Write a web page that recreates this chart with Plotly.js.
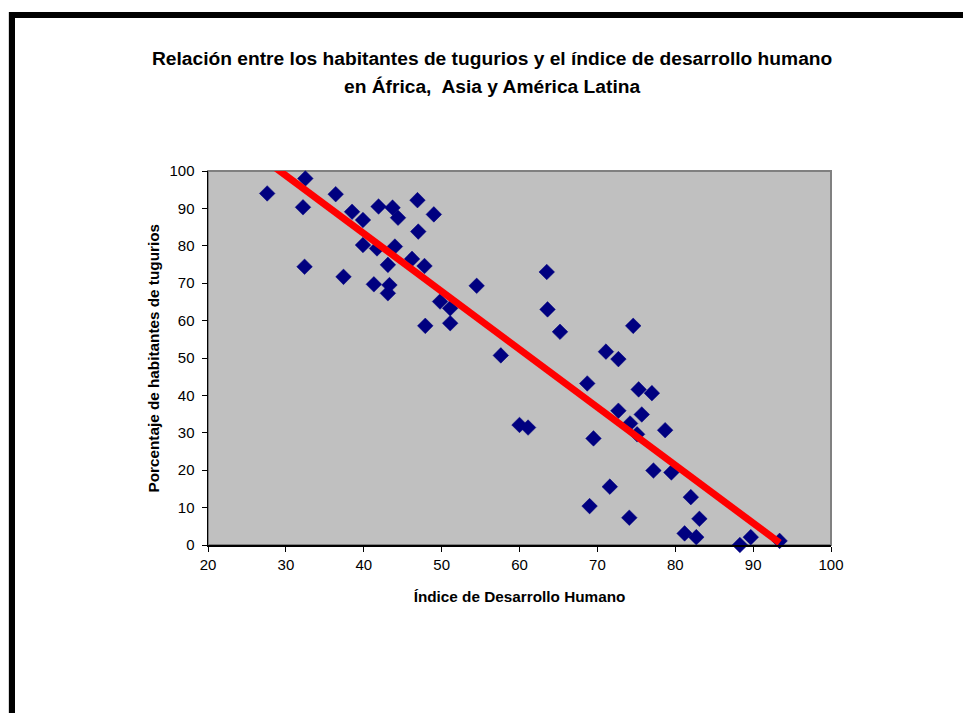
<!DOCTYPE html>
<html>
<head>
<meta charset="utf-8">
<script src="https://cdn.plot.ly/plotly-3.0.1.min.js"></script>
<style>
  html, body { margin: 0; padding: 0; background: #fff; overflow: hidden; }
  #frame { position: absolute; left: 9px; top: 12px; width: 2000px; height: 2000px;
           border-top: 6px solid #000; border-left: 6px solid #000; pointer-events: none; }
  #edge { position: absolute; left: 8px; top: 12px; width: 1px; height: 2000px; background: #d8d8d8; }
  #chart { position: absolute; left: 0; top: 0; width: 963px; height: 713px; }
</style>
</head>
<body>
<div id="chart"></div>
<div id="edge"></div>
<div id="frame"></div>
<script>
// Human Development Index (x) and percentage of slum dwellers (y)
const hdi = [27.6, 32.5, 32.2, 32.4, 36.4, 37.4, 38.5, 39.9, 39.9, 41.9,
             41.7, 41.3, 43.7, 44.4, 43.1, 44.0, 43.3, 43.1, 46.9, 47.0,
             46.2, 47.8, 49.0, 47.9, 54.5, 49.8, 51.1, 51.1, 57.6, 60.0,
             61.1, 63.5, 63.6, 65.2, 68.7, 69.0, 69.5, 71.1, 71.6, 72.7,
             72.7, 74.1, 74.2, 74.6, 75.1, 75.3, 75.7, 77.0, 77.2, 78.7,
             79.5, 81.2, 82.0, 82.7, 83.1, 88.3, 89.7, 93.4];
const slum = [94.0, 98.0, 90.3, 74.4, 93.8, 71.7, 89.1, 86.9, 80.2, 90.5,
              79.3, 69.7, 90.2, 87.5, 74.9, 79.8, 69.5, 67.3, 92.2, 83.8,
              76.5, 74.6, 88.4, 58.6, 69.3, 65.1, 63.3, 59.3, 50.7, 32.1,
              31.4, 73.0, 63.0, 57.0, 43.2, 10.4, 28.5, 51.7, 15.6, 49.7,
              35.9, 7.3, 32.5, 58.6, 29.6, 41.6, 34.9, 40.6, 19.9, 30.7,
              19.4, 3.1, 12.8, 2.1, 7.0, 0.0, 2.1, 1.1];
// Linear trend line endpoints
const trendX = [27.6, 93.4];
const trendY = [102.5, 0.6];
const xTicks = [20, 30, 40, 50, 60, 70, 80, 90, 100];
const yTicks = [0, 10, 20, 30, 40, 50, 60, 70, 80, 90, 100];

const titleLine1 = 'Relación entre los habitantes de tugurios y el índice de desarrollo humano';
const titleLine2 = 'en África,  Asia y América Latina';
const xTitle = 'Índice de Desarrollo Humano';
const yTitle = 'Porcentaje de habitantes de tugurios';

const FONT = 'Liberation Sans, Arial, sans-serif';

const traces = [
  {
    type: 'scatter', mode: 'markers', x: hdi, y: slum,
    marker: { symbol: 'diamond', size: 12, color: '#000080', line: { color: '#000080', width: 0.5 } },
    cliponaxis: false, hoverinfo: 'x+y', showlegend: false
  },
  {
    type: 'scatter', mode: 'lines', x: trendX, y: trendY,
    line: { color: '#FF0000', width: 7 },
    cliponaxis: true, hoverinfo: 'skip', showlegend: false
  }
];

const layout = {
  width: 963, height: 713,
  margin: { l: 208, r: 132, t: 171, b: 168, pad: 0 },
  paper_bgcolor: 'rgba(0,0,0,0)',
  plot_bgcolor: '#C0C0C0',
  font: { family: FONT, size: 15, color: '#000' },
  showlegend: false,
  xaxis: {
    range: [20, 100], tickvals: xTicks, ticktext: xTicks.map(String),
    showgrid: false, zeroline: false, showline: true, linecolor: '#000', linewidth: 1.5,
    ticks: 'outside', ticklen: 5, tickwidth: 1, tickcolor: '#000',
    ticklabelstandoff: 0,
    tickfont: { family: FONT, size: 15, color: '#000' },
    title: { text: '<b>' + xTitle + '</b>', font: { family: FONT, size: 15.3, color: '#000' }, standoff: 20 },
    fixedrange: true
  },
  yaxis: {
    range: [0, 100], tickvals: yTicks, ticktext: yTicks.map(String),
    showgrid: false, zeroline: false, showline: true, linecolor: '#000', linewidth: 1.5,
    ticks: 'outside', ticklen: 5, tickwidth: 1, tickcolor: '#000',
    ticklabelstandoff: 4,
    tickfont: { family: FONT, size: 15, color: '#000' },
    fixedrange: true
  },
  shapes: [
    { type: 'rect', xref: 'paper', yref: 'paper', x0: 0, x1: 1, y0: 0, y1: 1,
      line: { color: '#808080', width: 2 }, layer: 'below' }
  ],
  annotations: [
    { text: '<b>' + titleLine1 + '</b>', xref: 'paper', yref: 'paper', x: 0.456, y: 1.302,
      xanchor: 'center', yanchor: 'middle', showarrow: false,
      font: { family: FONT, size: 19.2, color: '#000' } },
    { text: '<b>' + titleLine2 + '</b>', xref: 'paper', yref: 'paper', x: 0.456, y: 1.227,
      xanchor: 'center', yanchor: 'middle', showarrow: false,
      font: { family: FONT, size: 19.2, color: '#000' } },
    { text: '<b>' + yTitle + '</b>', xref: 'paper', yref: 'paper', x: -0.089, y: 0.5,
      xanchor: 'center', yanchor: 'middle', textangle: -90, showarrow: false,
      font: { family: FONT, size: 15.3, color: '#000' } }
  ]
};

Plotly.newPlot('chart', traces, layout, { displayModeBar: false, staticPlot: true });
</script>
</body>
</html>
